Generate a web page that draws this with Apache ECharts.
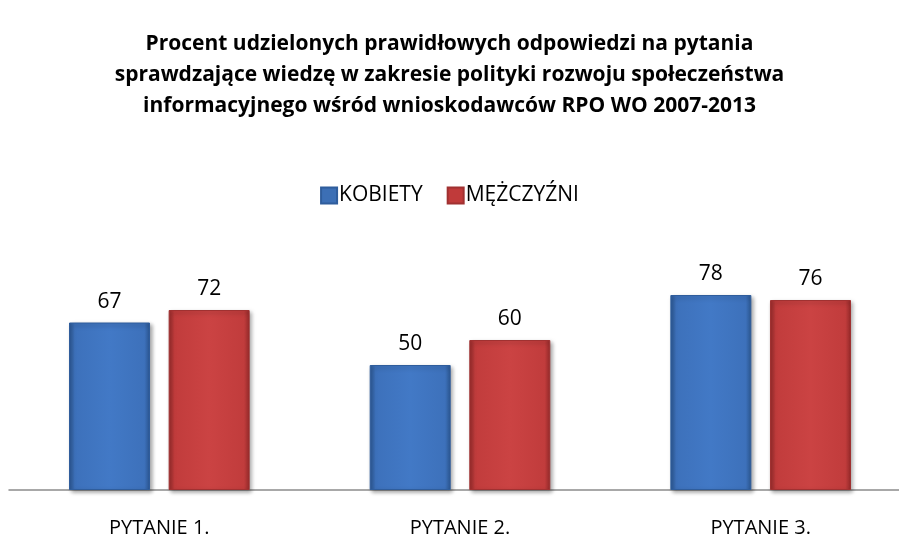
<!DOCTYPE html>
<html>
<head>
<meta charset="utf-8">
<script src="https://cdn.jsdelivr.net/npm/echarts@6/dist/echarts.min.js"></script>
<style>
  html, body { margin: 0; padding: 0; background: #fff; }
  #chart { width: 899px; height: 539px; }
</style>
</head>
<body>
<div id="chart"></div>
<script>
const categories = ['PYTANIE 1.', 'PYTANIE 2.', 'PYTANIE 3.'];
const kobiety = [67, 50, 78];
const mezczyzni = [72, 60, 76];

// bevel-like fill: darker sides, flat middle
function barColor(edge, mid, centre) {
  return new echarts.graphic.LinearGradient(0, 0, 1, 0, [
    { offset: 0, color: edge },
    { offset: 0.07, color: mid },
    { offset: 0.5, color: centre },
    { offset: 0.93, color: mid },
    { offset: 1, color: edge }
  ]);
}

const chart = echarts.init(document.getElementById('chart'));
const option = {
  animation: false,
  textStyle: { fontFamily: 'Open Sans, Liberation Sans, sans-serif' },
  title: {
    text: 'Procent udzielonych prawidłowych odpowiedzi na pytania\nsprawdzające wiedzę w zakresie polityki rozwoju społeczeństwa\ninformacyjnego wśród wnioskodawców RPO WO 2007-2013',
    left: 'center',
    top: 24,
    textStyle: { fontSize: 21, fontWeight: 'bold', color: '#000', lineHeight: 31, fontFamily: 'Open Sans, sans-serif' }
  },
  legend: {
    top: 180,
    left: 'center',
    itemWidth: 16,
    itemHeight: 16,
    itemGap: 24,
    icon: 'rect',
    textStyle: { fontSize: 21, color: '#000', padding: [0, 0, 0, -3] },
    data: [
      { name: 'KOBIETY', itemStyle: { color: '#3c6fb5' } },
      { name: 'MĘŻCZYŹNI', itemStyle: { color: '#c03a3a' } }
    ]
  },
  grid: { left: 9, width: 902, top: 240, bottom: 49, outerBoundsMode: 'none' },
  xAxis: {
    type: 'category',
    data: categories,
    axisLine: { lineStyle: { color: '#8c8c8c', width: 1.5 } },
    axisTick: { show: false },
    axisLabel: { fontSize: 20, color: '#000', margin: 28 }
  },
  yAxis: {
    type: 'value',
    min: 0,
    max: 100,
    show: false,
    splitLine: { show: false }
  },
  series: [
    {
      name: 'KOBIETY',
      type: 'bar',
      data: kobiety,
      barWidth: 81,
      barGap: '23%',
      itemStyle: {
        color: barColor('#2b5690', '#3d71bb', '#4279c6'),
        borderColor: '#2f5d9c',
        borderWidth: 1,
        shadowColor: 'rgba(0,0,0,0.35)',
        shadowBlur: 4,
        shadowOffsetX: 2,
        shadowOffsetY: 2
      },
      label: { show: true, position: 'top', distance: 10, fontSize: 21, color: '#000' }
    },
    {
      name: 'MĘŻCZYŹNI',
      type: 'bar',
      data: mezczyzni,
      barWidth: 81,
      itemStyle: {
        color: barColor('#952a2a', '#c13c3c', '#cb4343'),
        borderColor: '#a03131',
        borderWidth: 1,
        shadowColor: 'rgba(0,0,0,0.35)',
        shadowBlur: 4,
        shadowOffsetX: 2,
        shadowOffsetY: 2
      },
      label: { show: true, position: 'top', distance: 10, fontSize: 21, color: '#000' }
    }
  ]
};
chart.setOption(option);
</script>
</body>
</html>
